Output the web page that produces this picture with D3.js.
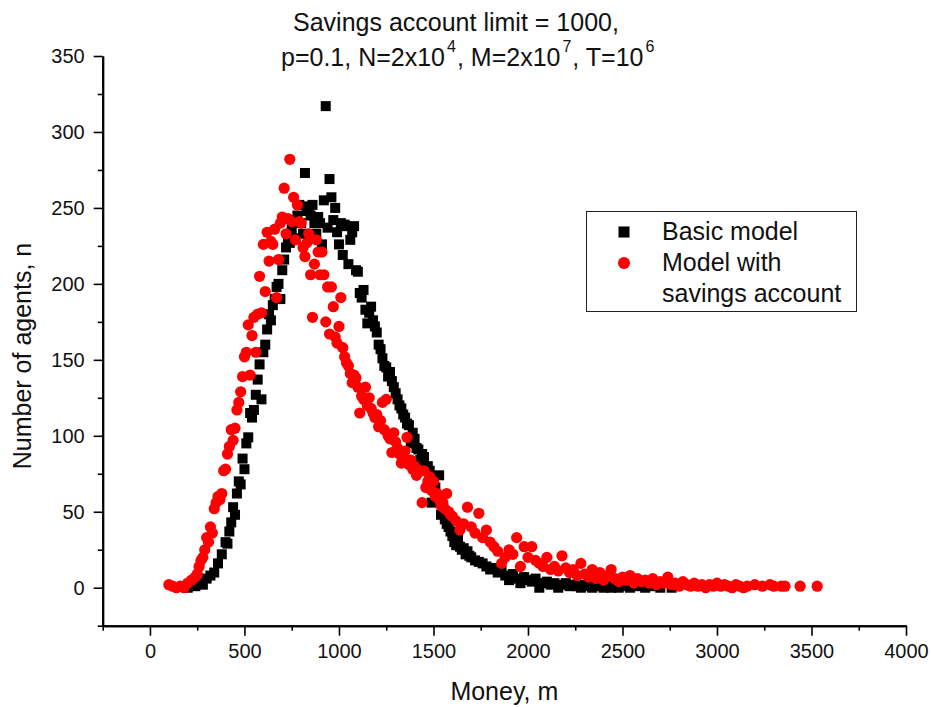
<!DOCTYPE html>
<html>
<head>
<meta charset="utf-8">
<script src="https://cdn.jsdelivr.net/npm/d3@7/dist/d3.min.js"></script>
<style>
  html, body { margin: 0; padding: 0; background: #ffffff; }
  svg { display: block; font-family: "Liberation Sans", Arial, sans-serif; }
</style>
</head>
<body>
<svg id="chart" width="931" height="707"></svg>
<script>
// Money distribution histograms: [money bin, number of agents]
const basicModel = [
  [180,1],[200,0],[220,2],[240,1],[260,3],[280,2],[300,6],[320,8],[340,10],[360,16],[380,22],
  [400,30],[410,29],[420,37],[430,43],[440,53],[450,48],[460,62],[470,70],[480,68],[490,85],
  [500,78],[510,95],[520,99],[530,115],[540,112],[550,117],[560,127],[570,137],[580,147],[590,124],
  [600,155],[610,160],[620,170],[630,180],[640,176],[650,186],[660,190],[670,198],[680,200],[690,190],
  [700,209],[710,216],[720,224],[730,229],[740,227],[750,236],[760,242],[770,230],[780,245],[790,252],
  [800,240],[810,233],[820,273],[830,248],[840,251],[850,245],[860,252],[870,240],[880,233],[890,244],
  [900,240],[910,226],[920,255],[930,317],[940,237],[950,269],[960,257],[970,242],[980,250],[990,234],
  [1000,226],[1010,240],[1020,219],[1030,239],[1040,238],[1050,213],[1060,229],[1070,234],[1080,238],[1090,209],
  [1100,208],[1110,194],[1120,191],[1130,196],[1140,183],[1150,174],[1160,181],[1170,185],[1180,176],[1190,172],
  [1200,168],[1210,160],[1220,157],[1230,151],[1240,146],[1250,145],[1260,139],[1270,142],[1280,136],[1290,132],
  [1300,128],[1310,124],[1320,120],[1330,118],[1340,114],[1350,112],[1360,108],[1370,107],[1380,95],[1390,102],
  [1400,98],[1410,92],[1420,91],[1430,84],[1440,88],[1450,86],[1460,78],[1470,80],[1480,77],[1490,56],
  [1500,70],[1510,66],[1520,60],[1530,74],[1540,48],[1550,52],[1560,45],[1570,42],[1580,40],[1590,37],
  [1600,34],[1610,30],[1620,28],[1630,32],[1640,27],[1650,25],[1660,26],[1670,22],[1680,24],[1690,21],
  [1700,20],[1720,18],[1740,17],[1760,16],[1780,14],[1800,12],[1820,13],[1840,10],[1860,11],[1880,8],
  [1900,5],[1920,9],[1940,6],[1960,3],[1980,7],[2000,5],[2020,4],[2040,6],[2060,0],[2080,3],
  [2100,4],[2120,2],[2140,3],[2160,0],[2180,2],[2200,3],[2220,1],[2240,2],[2260,1],[2280,0],
  [2300,2],[2320,1],[2340,0],[2360,1],[2380,2],[2400,0],[2420,1],[2440,0],[2460,1],[2480,0],
  [2500,1],[2540,0],[2580,1],[2620,0],[2660,1],[2700,0],[2760,0]
];

const savingsModel = [
  [100,2],[120,1],[140,0],[160,1],[180,0],[200,3],[220,5],[240,7],[250,9],[260,14],
  [270,18],[280,20],[290,25],[300,33],[310,30],[320,40],[330,36],[340,52],[350,56],[360,60],
  [370,58],[380,62],[390,77],[400,78],[410,88],[420,93],[430,104],[440,97],[450,105],[460,117],
  [470,122],[480,129],[490,139],[500,152],[510,155],[520,173],[530,140],[540,166],[550,178],[560,155],
  [570,180],[580,205],[590,181],[600,226],[610,195],[620,234],[630,215],[640,228],[650,226],[660,236],
  [670,191],[680,216],[690,240],[700,244],[710,263],[720,233],[730,243],[740,282],[750,241],[760,257],
  [770,229],[780,252],[790,241],[800,240],[810,224],[820,218],[830,227],[840,233],[850,206],[860,178],
  [870,213],[880,229],[890,221],[900,206],[910,221],[920,206],[930,175],[940,198],[950,167],[960,198],
  [970,185],[980,165],[990,161],[1000,172],[1010,191],[1020,158],[1030,152],[1040,148],[1050,146],[1060,141],
  [1070,135],[1080,140],[1090,138],[1100,132],[1110,115],[1120,126],[1130,124],[1140,132],[1150,120],[1160,125],
  [1170,118],[1180,115],[1190,112],[1200,114],[1210,106],[1220,110],[1230,122],[1240,104],[1250,124],[1260,100],
  [1270,98],[1280,89],[1290,102],[1300,96],[1310,92],[1320,88],[1330,82],[1340,86],[1350,90],[1360,99],
  [1370,81],[1380,84],[1390,78],[1400,80],[1410,74],[1420,76],[1430,77],[1440,56],[1450,77],[1460,66],
  [1470,70],[1480,73],[1490,64],[1500,70],[1510,60],[1520,62],[1530,58],[1540,54],[1550,56],[1560,52],
  [1570,62],[1580,50],[1590,48],[1600,47],[1620,44],[1640,38],[1660,42],[1680,53],[1700,40],[1720,36],
  [1740,49],[1760,33],[1780,38],[1800,30],[1820,27],[1840,24],[1860,16],[1880,20],[1900,25],[1920,22],
  [1940,33],[1960,14],[1980,27],[2000,20],[2020,27],[2040,18],[2060,16],[2080,14],[2100,20],[2120,12],
  [2140,14],[2160,11],[2180,21],[2200,13],[2220,10],[2240,12],[2260,8],[2280,16],[2300,9],[2320,7],
  [2340,12],[2360,6],[2380,10],[2400,5],[2420,8],[2440,12],[2460,6],[2480,4],[2500,7],[2520,5],
  [2540,8],[2560,3],[2580,6],[2600,4],[2620,5],[2640,3],[2660,6],[2680,2],[2700,4],[2720,3],
  [2740,7],[2760,2],[2780,3],[2800,1],[2820,4],[2840,2],[2860,1],[2880,3],[2900,1],[2920,2],
  [2940,0],[2960,2],[2980,1],[3000,3],[3020,1],[3040,2],[3060,1],[3080,0],[3100,2],[3120,1],
  [3140,0],[3160,1],[3200,2],[3240,1],[3280,2],[3300,1],[3340,1],[3360,1],[3440,1],[3530,1]
];

const xMajorTicks = [0, 500, 1000, 1500, 2000, 2500, 3000, 3500, 4000];
const xMinorTicks = [-250, 250, 750, 1250, 1750, 2250, 2750, 3250, 3750];
const yMajorTicks = [0, 50, 100, 150, 200, 250, 300, 350];
const yMinorTicks = [-25, 25, 75, 125, 175, 225, 275, 325];

const seriesNames = ["Basic model", "Model with", "savings account"];
const xTitle = "Money, m";
const yTitle = "Number of agents, n";

const svg = d3.select("#chart");

const plot = { left: 102.7, right: 906, top: 56, bottom: 625.7 };

const x = d3.scaleLinear().domain([-250, 4000]).range([plot.left, plot.right]);
const y = d3.scaleLinear().domain([-25, 350]).range([plot.bottom, plot.top]);

// Axes: major ticks with labels, minor ticks without
const xAxis = d3.axisBottom(x).tickValues(xMajorTicks).tickSize(10).tickSizeOuter(0).tickPadding(8)
  .tickFormat(d3.format("d"));
const xAxisMinor = d3.axisBottom(x).tickValues(xMinorTicks).tickSize(5).tickSizeOuter(0).tickFormat("");
const yAxis = d3.axisLeft(y).tickValues(yMajorTicks).tickSize(9).tickSizeOuter(0).tickPadding(9)
  .tickFormat(d3.format("d"));
const yAxisMinor = d3.axisLeft(y).tickValues(yMinorTicks).tickSize(5).tickSizeOuter(0).tickFormat("");

function styleAxis(g) {
  g.selectAll(".domain").attr("stroke", "#000").attr("stroke-width", 2);
  g.selectAll(".tick line").attr("stroke", "#000").attr("stroke-width", 1.6);
  g.selectAll(".tick text").attr("fill", "#111").style("font-size", "20px")
    .style("font-family", "'Liberation Sans', Arial, sans-serif");
}

svg.append("g").attr("transform", `translate(0,${plot.bottom})`).call(xAxisMinor).call(styleAxis);
svg.append("g").attr("transform", `translate(0,${plot.bottom})`).call(xAxis).call(styleAxis);
svg.append("g").attr("transform", `translate(${plot.left},0)`).call(yAxisMinor).call(styleAxis);
svg.append("g").attr("transform", `translate(${plot.left},0)`).call(yAxis).call(styleAxis);

// Basic model: black squares
const sq = 10;
svg.append("g").selectAll("rect")
  .data(basicModel)
  .join("rect")
  .attr("x", d => x(d[0]) - sq / 2)
  .attr("y", d => y(d[1]) - sq / 2)
  .attr("width", sq)
  .attr("height", sq)
  .attr("fill", "#000");

// Model with savings account: red circles on top
svg.append("g").selectAll("circle")
  .data(savingsModel)
  .join("circle")
  .attr("cx", d => x(d[0]))
  .attr("cy", d => y(d[1]))
  .attr("r", 5.6)
  .attr("fill", "#ff0000");

// Title (two lines, second with superscripts)
const title = svg.append("g").attr("fill", "#111").style("font-size", "25px");
title.append("text").attr("x", 293).attr("y", 31).text("Savings account limit = 1000,");
const t2 = title.append("text").attr("x", 281).attr("y", 66);
const titleParts = [
  ["p=0.1, N=2x10", false], ["4", true], [", M=2x10", false], ["7", true], [", T=10", false], ["6", true]
];
titleParts.forEach(([txt, sup], i) => {
  const span = t2.append("tspan").text(txt);
  if (sup) span.attr("dx", 2).attr("dy", -14).style("font-size", "16px");
  else if (i > 0) span.attr("dx", 1).attr("dy", 14);
});

// Axis titles
svg.append("text")
  .attr("x", (plot.left + plot.right) / 2)
  .attr("y", 700)
  .attr("text-anchor", "middle")
  .attr("fill", "#111")
  .style("font-size", "25px")
  .text(xTitle);

svg.append("text")
  .attr("transform", `translate(31,356) rotate(-90)`)
  .attr("text-anchor", "middle")
  .attr("fill", "#111")
  .style("font-size", "25px")
  .text(yTitle);

// Legend
const legend = svg.append("g");
legend.append("rect")
  .attr("x", 586.5).attr("y", 211.5).attr("width", 270).attr("height", 100)
  .attr("fill", "#fff").attr("stroke", "#222").attr("stroke-width", 1);
legend.append("rect")
  .attr("x", 624 - 5.5).attr("y", 232 - 5.5).attr("width", 11).attr("height", 11).attr("fill", "#000");
legend.append("circle").attr("cx", 624).attr("cy", 263).attr("r", 6).attr("fill", "#ff0000");
const legText = legend.append("g").attr("fill", "#111").style("font-size", "25px");
legText.append("text").attr("x", 662).attr("y", 240).text(seriesNames[0]);
legText.append("text").attr("x", 662).attr("y", 271).text(seriesNames[1]);
legText.append("text").attr("x", 662).attr("y", 302).text(seriesNames[2]);
</script>
</body>
</html>
